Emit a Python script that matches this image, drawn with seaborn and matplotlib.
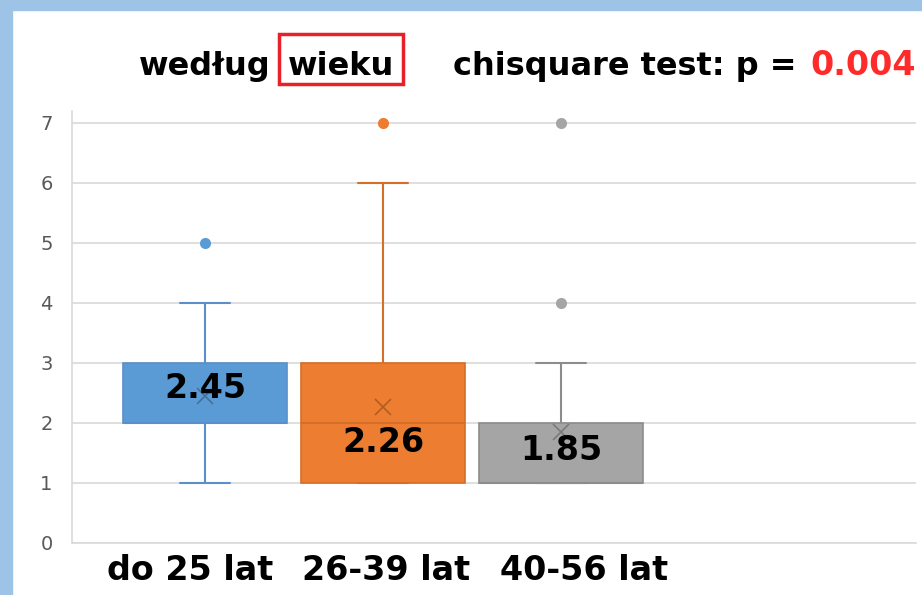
import seaborn as sns
import matplotlib.pyplot as plt
import matplotlib.transforms as mtransforms
import pandas as pd
from matplotlib.patches import Rectangle

# Data: individual answers per age group
categories = ['do 25 lat', '26-39 lat', '40-56 lat']
group_1 = [1, 2, 2, 2, 2, 2, 2, 2, 2, 2, 2, 2, 2, 3, 3, 3, 3, 3, 4, 5]
group_2 = [1, 1, 1, 1, 1, 1, 1, 1, 2, 2, 2, 2, 2, 2, 2, 2, 3, 3, 3, 3, 3, 6, 7]
group_3 = [1, 1, 1, 1, 1, 1, 1, 1, 1, 1, 1, 2, 2, 2, 2, 2, 2, 3, 4, 7]
mean_labels = ['2.45', '2.26', '1.85']
p_value = '0.004'

# Colors
fill_colors = ['#5B9BD5', '#ED7D31', '#A5A5A5']
line_colors = ['#5B8FC9', '#D56E28', '#8C8C8C']
mean_colors = ['#41719C', '#B05D22', '#7A7A7A']

df = pd.DataFrame({
    'group': [categories[0]] * len(group_1) + [categories[1]] * len(group_2) + [categories[2]] * len(group_3),
    'value': group_1 + group_2 + group_3,
})

sns.set_style('white')
plt.rcParams['font.family'] = ['DejaVu Sans']

fig = plt.figure(figsize=(9.22, 5.95), dpi=100)
ax = fig.add_axes([72 / 922, 52 / 595, (916 - 72) / 922, (543 - 111) / 595])

sns.boxplot(data=df, x='group', y='value', hue='group', order=categories,
            hue_order=categories, palette=fill_colors, width=0.92, gap=0,
            dodge=False, legend=False, showmeans=True, whis=1.5,
            meanprops=dict(marker='x', markersize=12, markeredgewidth=1.2),
            flierprops=dict(marker='o', markersize=8, markeredgewidth=0),
            ax=ax)

# Recolor the parts of each box like the Excel chart
for i, cont in enumerate(ax.containers):
    for box in cont.boxes:
        box.set_facecolor(fill_colors[i])
        box.set_edgecolor(line_colors[i])
        box.set_linewidth(1.2)
    for ln in list(cont.whiskers) + list(cont.caps) + list(cont.medians):
        ln.set_color(line_colors[i])
        ln.set_linewidth(1.5)
    for cap in cont.caps:
        x = cap.get_xdata()
        c = (x[0] + x[1]) / 2
        cap.set_xdata([c - 0.14, c + 0.14])
    for fl in cont.fliers:
        fl.set_markerfacecolor(fill_colors[i])
        fl.set_markeredgecolor(fill_colors[i])
    for m in cont.means:
        m.set_markeredgecolor(mean_colors[i])
        m.set_markerfacecolor(mean_colors[i])

# Mean value labels
label_y = [2.58, 1.68, 1.55]
for i, txt in enumerate(mean_labels):
    ax.text(i, label_y[i], txt, ha='center', va='center', fontsize=24,
            fontweight='bold', color='black', zorder=10)

ax.set_xlim(-0.747, 3.99)
ax.set_ylim(0, 7.2)
ax.set_yticks(range(0, 8))
ax.yaxis.grid(True, color='#D9D9D9', linewidth=1.2)
ax.set_axisbelow(True)
ax.tick_params(axis='y', length=0, pad=14, labelsize=14, labelcolor='#595959')
ax.tick_params(axis='x', length=0, pad=8, labelsize=24, labelcolor='black')
# category labels sit a bit off the box centres in the original
shifts = [-15, 3, 23]
for lab, dx in zip(ax.get_xticklabels(), shifts):
    lab.set_fontweight('bold')
    lab.set_transform(lab.get_transform() + mtransforms.Affine2D().translate(dx, 0))
ax.set_xlabel('')
ax.set_ylabel('')
for side in ['top', 'right']:
    ax.spines[side].set_visible(False)
ax.spines['left'].set_color('#D9D9D9')
ax.spines['bottom'].set_color('#D9D9D9')
ax.spines['left'].set_linewidth(1.2)
ax.spines['bottom'].set_linewidth(1.2)

# Title pieces
ty = 1 - 75 / 595
fig.text(271 / 922, ty, 'według', ha='right', va='baseline', fontsize=23, fontweight='bold', color='black')
fig.text(341 / 922, ty, 'wieku', ha='center', va='baseline', fontsize=23, fontweight='bold', color='black')
fig.add_artist(Rectangle((279 / 922, 1 - 84 / 595), 124 / 922, 50 / 595, transform=fig.transFigure,
                         facecolor='none', edgecolor='#E8202A', linewidth=2.5))
fig.text(453 / 922, ty, 'chisquare test: p = ', ha='left', va='baseline', fontsize=23, fontweight='bold',
         color='black')
fig.text(916 / 922, ty, p_value, ha='right', va='baseline', fontsize=24, fontweight='bold', color='#FF2B2B')

# Light blue frame on the top and left
fig.add_artist(Rectangle((0, 0), 12 / 922, 1, transform=fig.transFigure, color='#9DC3E6', zorder=0))
fig.add_artist(Rectangle((0, 1 - 10 / 595), 1, 10 / 595, transform=fig.transFigure, color='#9DC3E6', zorder=0))

fig.savefig('out.png', dpi=100)
